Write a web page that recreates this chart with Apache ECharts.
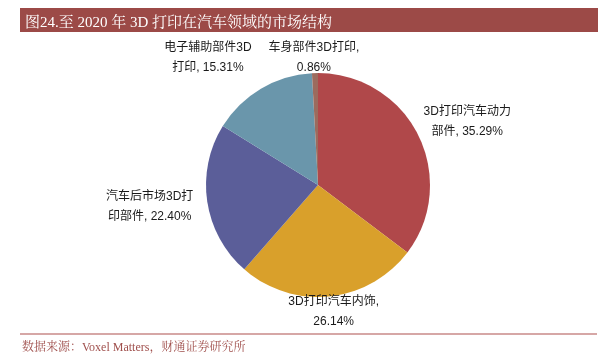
<!DOCTYPE html>
<html>
<head>
<meta charset="utf-8">
<script src="https://cdn.jsdelivr.net/npm/echarts@6/dist/echarts.min.js"></script>
<style>
html,body{margin:0;padding:0;background:#fff;}
#chart{width:598px;height:362px;}
</style>
</head>
<body>
<div id="chart"></div>
<script>
// ---- data ----
const categories = ['3D打印汽车动力部件', '3D打印汽车内饰', '汽车后市场3D打印部件', '电子辅助部件3D打印', '车身部件3D打印'];
const values = [35.29, 26.14, 22.40, 15.31, 0.86];
const labelTexts = ['3D打印汽车动力\n部件, 35.29%', '3D打印汽车内饰,\n26.14%', '汽车后市场3D打\n印部件, 22.40%', '电子辅助部件3D\n打印, 15.31%', '车身部件3D打印,\n0.86%'];
const colors = ['#B0484A', '#D9A02B', '#5B5E99', '#6A96AB', '#9C6B5E'];
const titleText = '图24.至 2020 年 3D 打印在汽车领域的市场结构';
const sourceText = '数据来源：Voxel Matters，财通证券研究所';

// ---- layout constants ----
const CX = 318, CY = 185, R = 112;
const LABEL_FONT = '12px "Liberation Sans", "Noto Sans CJK SC", sans-serif';
const LH = 20;

const ctx = document.createElement('canvas').getContext('2d');
ctx.font = LABEL_FONT;
const total = values.reduce((a, b) => a + b, 0);
let acc = 0;
const pos = values.map((v, i) => {
  const mid = (acc + v / 2) / total * 2 * Math.PI; acc += v;
  const dx = Math.sin(mid), dy = -Math.cos(mid);
  const lines = labelTexts[i].split('\n');
  const w = Math.max(...lines.map(s => ctx.measureText(s).width));
  const h = lines.length * LH;
  const k = 15 * dx * dx - 5 * dy * dy;
  return { x: CX + dx * (R + k) + dx * w / 2, y: CY + dy * (R + k) + dy * h / 2, w, h };
});
// resolve overlaps: push the left label further left and align it with its neighbour
const GAP = 17;
for (let i = 0; i < pos.length; i++) {
  for (let j = 0; j < pos.length; j++) {
    if (i === j) continue;
    const a = pos[i], b = pos[j];
    const ox = Math.abs(a.x - b.x) < (a.w + b.w) / 2 + GAP;
    const oy = Math.abs(a.y - b.y) < (a.h + b.h) / 2;
    if (ox && oy && a.x < b.x) {
      a.x = b.x - (a.w + b.w) / 2 - GAP;
      a.y = b.y + (a.h - b.h) / 2;
    }
  }
}

const chart = echarts.init(document.getElementById('chart'), null, { renderer: 'canvas' });
chart.setOption({
  animation: false,
  backgroundColor: '#ffffff',
  title: {
    text: titleText,
    left: 20, top: 11,
    textStyle: { color: '#ffffff', fontSize: 15, fontWeight: 'normal', fontFamily: '"Liberation Serif", "Noto Serif CJK SC", "Noto Sans CJK SC", serif' }
  },
  graphic: [
    { type: 'rect', z: -1, shape: { x: 20, y: 8, width: 578, height: 24 }, style: { fill: '#9C4A47' } },
    { type: 'line', shape: { x1: 20, y1: 334, x2: 597, y2: 334 }, style: { stroke: '#C98A88', lineWidth: 1.5 } },
    { type: 'text', x: 22, y: 348, style: { text: sourceText, fill: '#A0504D', fontSize: 12, fontFamily: '"Liberation Serif", "Noto Serif CJK SC", "Noto Sans CJK SC", serif', verticalAlign: 'middle' } }
  ],
  series: [{
    type: 'pie',
    center: [CX, CY],
    radius: R,
    startAngle: 90,
    clockwise: true,
    avoidLabelOverlap: false,
    itemStyle: { borderWidth: 0 },
    label: {
      show: true,
      position: 'outside',
      formatter: p => labelTexts[p.dataIndex],
      color: '#1a1a1a',
      fontSize: 12,
      lineHeight: LH,
      fontFamily: '"Liberation Sans", "Noto Sans CJK SC", sans-serif'
    },
    labelLine: { show: false },
    labelLayout: p => ({ x: pos[p.dataIndex].x, y: pos[p.dataIndex].y, align: 'center', verticalAlign: 'middle' }),
    data: categories.map((c, i) => ({ name: c, value: values[i], itemStyle: { color: colors[i] } }))
  }]
});
</script>
</body>
</html>
